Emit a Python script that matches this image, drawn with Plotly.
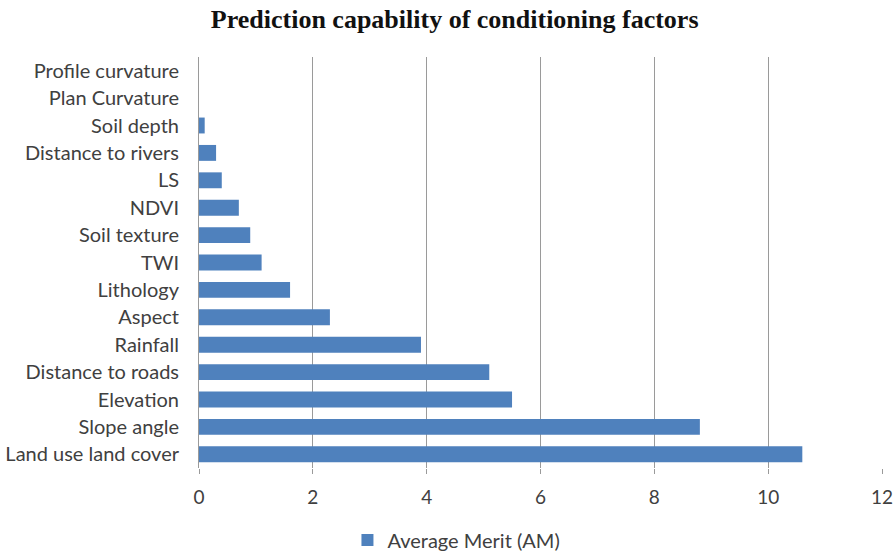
import plotly.graph_objects as go

categories = ["Profile curvature", "Plan Curvature", "Soil depth", "Distance to rivers", "LS",
              "NDVI", "Soil texture", "TWI", "Lithology", "Aspect", "Rainfall",
              "Distance to roads", "Elevation", "Slope angle", "Land use land cover"]
values = [0, 0, 0.1, 0.3, 0.4, 0.7, 0.9, 1.1, 1.6, 2.3, 3.9, 5.1, 5.5, 8.8, 10.6]
x_ticks = [0, 2, 4, 6, 8, 10, 12]
series_name = "Average Merit (AM)"
title_text = "Prediction capability of conditioning factors"

FONT = "Lato"

fig = go.Figure()
fig.add_trace(go.Bar(
    x=values, y=categories, orientation="h", name=series_name,
    marker=dict(color="#4F81BD", line=dict(width=0)),
    showlegend=True,
))

fig.update_layout(
    width=895, height=555,
    margin=dict(l=199, r=13, t=57, b=87, autoexpand=False),
    paper_bgcolor="white", plot_bgcolor="white",
    bargap=0.42,
    title=dict(text="<b>" + title_text + "</b>", x=0.508, xanchor="center",
               y=1 - 19 / 555, yanchor="middle", yref="container",
               font=dict(family="Liberation Serif", size=26, color="#111111")),
    xaxis=dict(range=[0, 12], tickvals=x_ticks, showgrid=True, gridcolor="#9a9a9a", gridwidth=1,
               zeroline=False, showline=False, ticks="outside", ticklen=5, tickcolor="#9a9a9a",
               ticklabelstandoff=7, automargin=False,
               tickfont=dict(family=FONT, size=19, color="#404040")),
    yaxis=dict(autorange="reversed", showgrid=False, showline=True, linecolor="#9a9a9a",
               linewidth=1, ticks="", ticklabelstandoff=15, automargin=False,
               tickfont=dict(family=FONT, size=20, color="#404040")),
    legend=dict(orientation="h", x=0.51, xanchor="center", xref="container",
                y=1 - 540 / 555, yanchor="middle", yref="container",
                font=dict(family=FONT, size=20, color="#404040")),
)

fig.write_html("out.html", config={"displayModeBar": False},
               post_script="document.body.style.margin='0';")
